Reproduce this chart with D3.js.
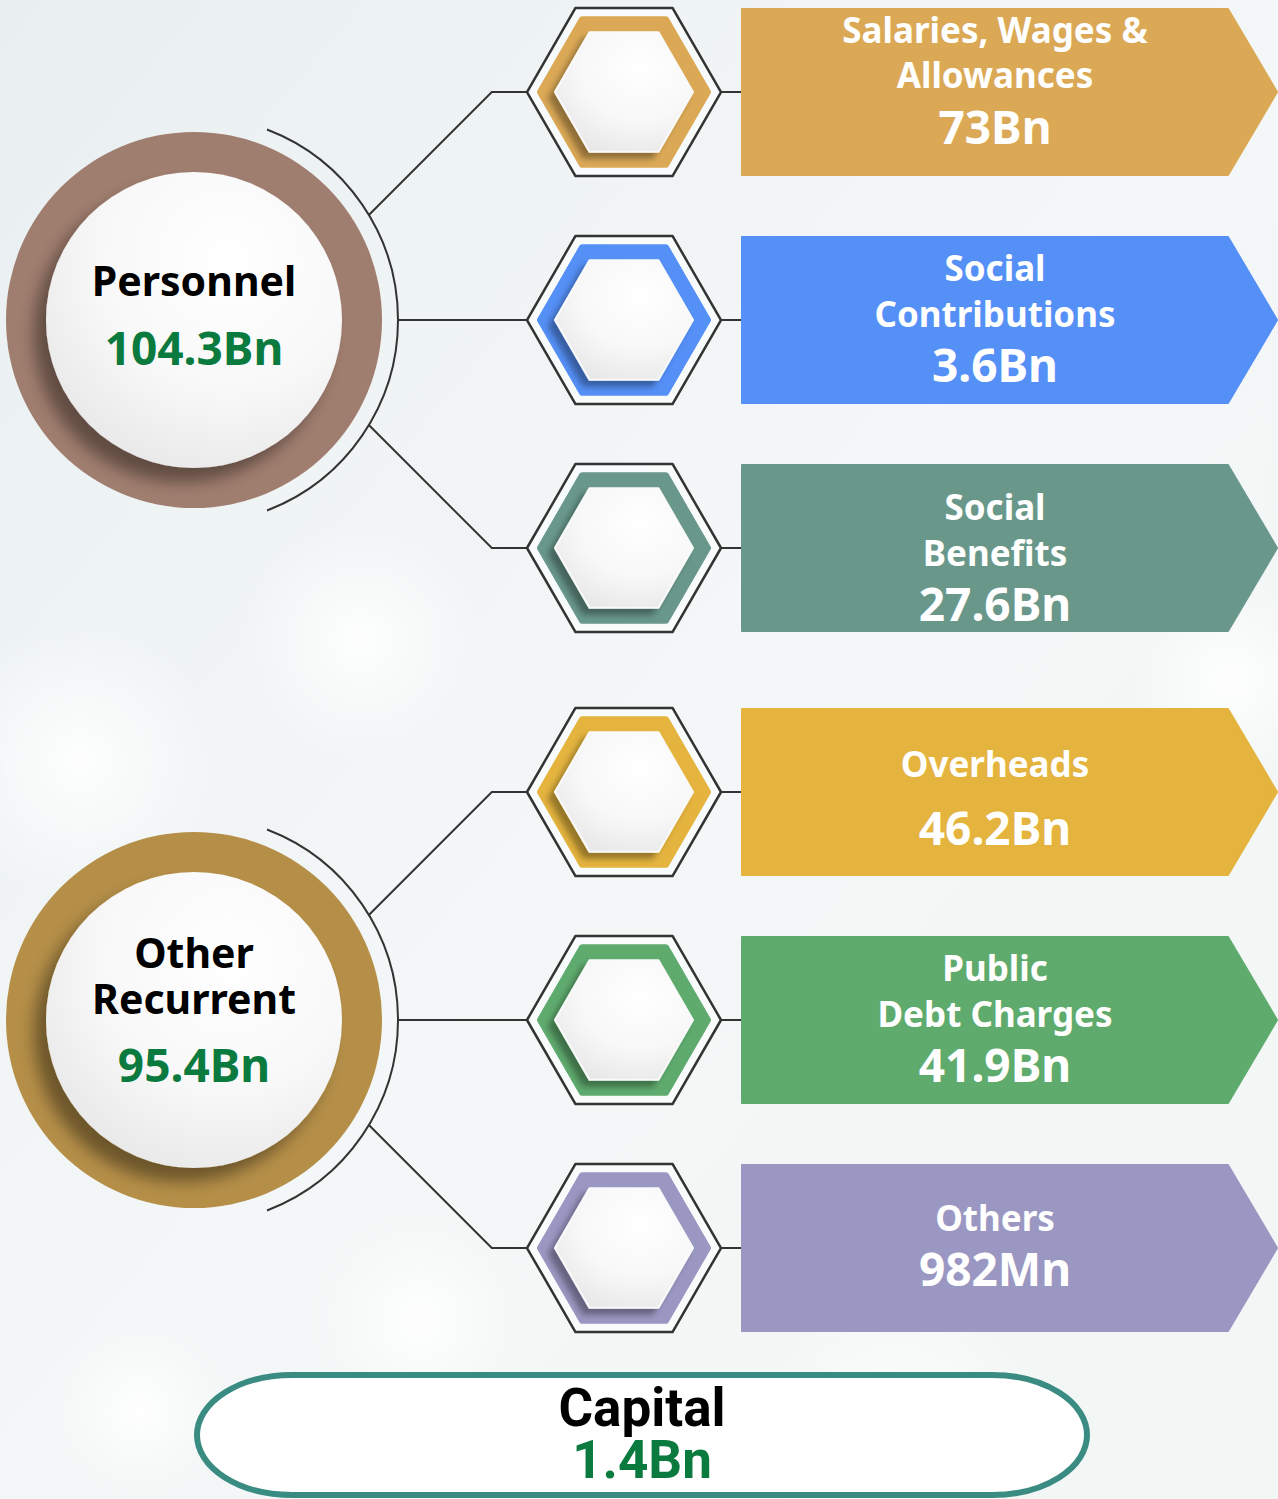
<!DOCTYPE html>
<html>
<head>
<meta charset="utf-8">
<script src="https://cdn.jsdelivr.net/npm/d3@7"></script>
<style>
  html, body { margin: 0; padding: 0; background: #f1f5f6; }
  svg { display: block; }
</style>
</head>
<body>
<svg id="mainsvg" width="1278" height="1499"></svg>
<script>
// groups (left circles)
const groupNames = [['Personnel'], ['Other', 'Recurrent']];
const groupValues = [104.3, 95.4];
const groupColors = ['#a07e6f', '#b58f48'];

// items (hexagon + arrow boxes)
const itemNames = [
  ['Salaries, Wages &', 'Allowances'],
  ['Social', 'Contributions'],
  ['Social', 'Benefits'],
  ['Overheads'],
  ['Public', 'Debt Charges'],
  ['Others']
];
const itemValues = [73, 3.6, 27.6, 46.2, 41.9, 0.982];
const itemGroup = [0, 0, 0, 1, 1, 1];
const itemColors = ['#dba956', '#5590f7', '#69988b', '#e4b43e', '#5fab6e', '#9a97c2'];

const capitalName = 'Capital';
const capitalValue = 1.4;

const fmt = v => v >= 1 ? d3.format('~r')(v) + 'Bn' : Math.round(v * 1000) + 'Mn';

// text placement inside the arrow boxes (offsets from row centre)
const textOffsets = [
  [-61, -16, 36],
  [-51, -5, 46],
  [-40, 6, 57],
  [-27, 37],
  [-51, -5, 46],
  [-29, 22]
];

const svg = d3.select('#mainsvg');
const width = +svg.attr('width');
const height = +svg.attr('height');
const defs = svg.append('defs');

// background
const bg = defs.append('linearGradient').attr('id', 'bg').attr('x1', 0).attr('y1', 0).attr('x2', 1).attr('y2', 1);
bg.append('stop').attr('offset', '0%').attr('stop-color', '#e9eff1');
bg.append('stop').attr('offset', '50%').attr('stop-color', '#f4f7f7');
bg.append('stop').attr('offset', '100%').attr('stop-color', '#f2f6f5');
svg.append('rect').attr('width', width).attr('height', height).attr('fill', 'url(#bg)');

const blob = defs.append('radialGradient').attr('id', 'blob');
blob.append('stop').attr('offset', '0%').attr('stop-color', '#ffffff').attr('stop-opacity', 0.9);
blob.append('stop').attr('offset', '100%').attr('stop-color', '#ffffff').attr('stop-opacity', 0);
[[360, 640, 120], [80, 760, 140], [420, 1320, 110], [900, 1430, 140], [140, 1410, 90], [1230, 680, 100]]
  .forEach(([x, y, r]) => svg.append('circle').attr('cx', x).attr('cy', y).attr('r', r).attr('fill', 'url(#blob)'));

const ball = defs.append('radialGradient').attr('id', 'ball').attr('cx', '0.62').attr('cy', '0.3').attr('r', '0.8');
ball.append('stop').attr('offset', '0%').attr('stop-color', '#ffffff');
ball.append('stop').attr('offset', '55%').attr('stop-color', '#f8f8f8');
ball.append('stop').attr('offset', '100%').attr('stop-color', '#e6e6e6');

const shadow = defs.append('filter').attr('id', 'shadow')
  .attr('x', '-30%').attr('y', '-30%').attr('width', '160%').attr('height', '160%');
shadow.append('feDropShadow').attr('dx', -12).attr('dy', 14).attr('stdDeviation', 8)
  .attr('flood-color', '#000').attr('flood-opacity', 0.4);
const hexShadow = defs.append('filter').attr('id', 'hexshadow')
  .attr('x', '-30%').attr('y', '-30%').attr('width', '160%').attr('height', '160%');
hexShadow.append('feDropShadow').attr('dx', -6).attr('dy', 6).attr('stdDeviation', 3)
  .attr('flood-color', '#000').attr('flood-opacity', 0.35);

// layout scales
const groupCenters = [320, 1020];
const rowScales = groupCenters.map(c => d3.scalePoint().domain([0, 1, 2]).range([c - 228, c + 228]));
const rowY = (d, i) => rowScales[itemGroup[i]](i % 3);

const circleX = 194;
const outerR = 188, innerR = 148, arcR = 204;
const hexX = 624, hexR = 97;
const boxX0 = 742, boxX1 = 1228, boxTip = 1277, boxH = 166;
const textX = 995;

const hexPoints = r => d3.range(6).map(k => {
  const a = Math.PI / 3 * k;
  return [r * Math.cos(a), r * Math.sin(a)];
});
const closed = d3.line().curve(d3.curveLinearClosed);

// connectors
const conn = svg.append('g').attr('fill', 'none').attr('stroke', '#333').attr('stroke-width', 2);
itemValues.forEach((v, i) => {
  const y = rowY(v, i);
  const cy = groupCenters[itemGroup[i]];
  const dy = y - cy;
  let pts;
  if (Math.abs(dy) < 1) {
    pts = [[circleX + arcR, y], [hexX - hexR, y]];
  } else {
    const th = Math.sign(dy) * 31 * Math.PI / 180;
    const sx = circleX + arcR * Math.cos(th), sy = cy + arcR * Math.sin(th);
    pts = [[sx, sy], [sx + Math.abs(y - sy), y], [hexX - hexR, y]];
  }
  conn.append('path').attr('d', d3.line()(pts));
  conn.append('path').attr('d', d3.line()([[hexX + hexR, y], [boxX0, y]]));
});

// group circles
groupValues.forEach((v, gi) => {
  const cy = groupCenters[gi];
  const g = svg.append('g').attr('transform', `translate(${circleX},${cy})`);
  const p = d3.path();
  const a = Math.acos(73 / arcR);
  p.arc(0, 0, arcR, -a, a);
  g.append('path').attr('d', p.toString()).attr('fill', 'none').attr('stroke', '#333').attr('stroke-width', 2);
  g.append('circle').attr('r', outerR).attr('fill', groupColors[gi]);
  g.append('circle').attr('r', innerR).attr('fill', 'url(#ball)').attr('filter', 'url(#shadow)');
  const lines = groupNames[gi];
  const lh = 46;
  const top = lines.length === 1 ? -38 : -66;
  lines.forEach((t, k) => {
    g.append('text').text(t)
      .attr('x', 0).attr('y', top + k * lh).attr('dy', '0.35em')
      .attr('text-anchor', 'middle')
      .attr('font-family', '"Noto Sans", sans-serif').attr('font-weight', 700)
      .attr('font-size', 41).attr('fill', '#000');
  });
  g.append('text').text(fmt(v))
    .attr('x', 0).attr('y', lines.length === 1 ? 29 : 46).attr('dy', '0.35em')
    .attr('text-anchor', 'middle')
    .attr('font-family', '"Noto Sans", sans-serif').attr('font-weight', 700)
    .attr('font-size', 46).attr('fill', '#0b7a3e');
});

// hexagons + arrow boxes
itemValues.forEach((v, i) => {
  const y = rowY(v, i);
  const hg = svg.append('g').attr('transform', `translate(${hexX},${y})`);
  hg.append('path').attr('d', closed(hexPoints(hexR)))
    .attr('fill', '#fbfdfd').attr('fill-opacity', 0.7)
    .attr('stroke', '#333').attr('stroke-width', 2.5).attr('stroke-linejoin', 'round');
  hg.append('path').attr('d', closed(hexPoints(84)))
    .attr('fill', itemColors[i]).attr('stroke', itemColors[i])
    .attr('stroke-width', 6).attr('stroke-linejoin', 'round');
  hg.append('path').attr('d', closed(hexPoints(69)))
    .attr('fill', 'url(#ball)').attr('stroke', '#fafafa').attr('stroke-width', 2)
    .attr('stroke-linejoin', 'round').attr('filter', 'url(#hexshadow)');

  const top = y - boxH / 2, bot = y + boxH / 2;
  svg.append('path')
    .attr('d', closed([[boxX0, top], [boxX1, top], [boxTip, y], [boxX1, bot], [boxX0, bot]]))
    .attr('fill', itemColors[i]).attr('stroke', itemColors[i])
    .attr('stroke-width', 2).attr('stroke-linejoin', 'round');

  const lines = itemNames[i];
  const offs = textOffsets[i];
  const tg = svg.append('g').attr('fill', '#fff')
    .attr('font-family', '"Noto Sans", sans-serif').attr('font-weight', 700)
    .attr('text-anchor', 'middle');
  lines.forEach((t, k) => {
    tg.append('text').text(t)
      .attr('x', textX).attr('y', y + offs[k]).attr('dy', '0.35em')
      .attr('font-size', 35);
  });
  tg.append('text').text(fmt(v))
    .attr('x', textX).attr('y', y + offs[offs.length - 1]).attr('dy', '0.35em')
    .attr('font-size', 46);
});

// capital
const cap = svg.append('g');
cap.append('rect').attr('x', 197).attr('y', 1375).attr('width', 890).attr('height', 120)
  .attr('rx', 95).attr('ry', 60)
  .attr('fill', '#ffffff').attr('stroke', '#3a8c82').attr('stroke-width', 6);
cap.append('text').text(capitalName)
  .attr('x', 642).attr('y', 1407).attr('dy', '0.35em').attr('text-anchor', 'middle')
  .attr('font-family', '"Liberation Sans Narrow", "Roboto", sans-serif').attr('font-weight', 700)
  .attr('font-size', 53).attr('fill', '#000');
cap.append('text').text(fmt(capitalValue))
  .attr('x', 642).attr('y', 1459).attr('dy', '0.35em').attr('text-anchor', 'middle')
  .attr('font-family', '"Liberation Sans Narrow", "Roboto", sans-serif').attr('font-weight', 700)
  .attr('font-size', 53).attr('fill', '#0b7a3e');
</script>
</body>
</html>
